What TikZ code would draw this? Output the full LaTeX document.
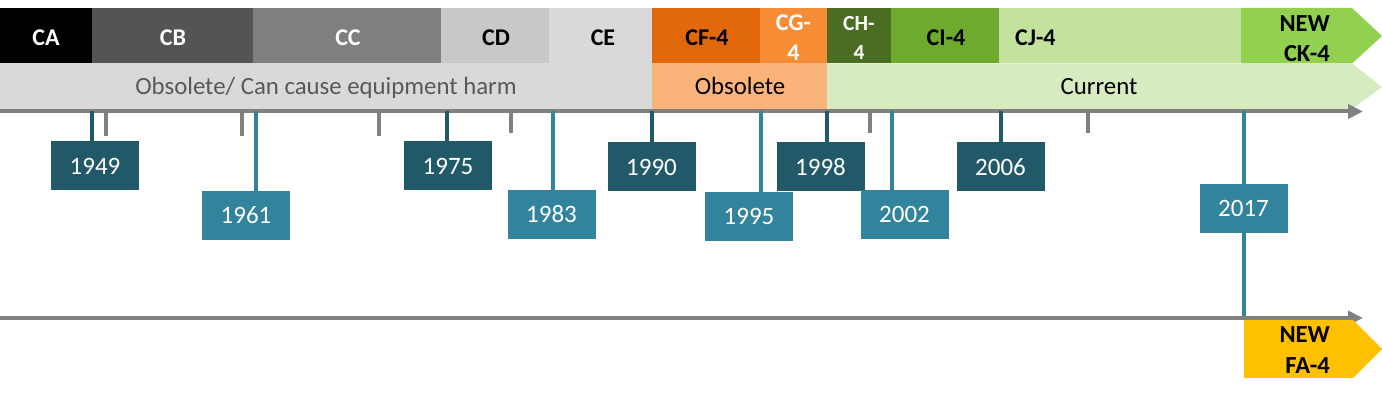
\documentclass[tikz,border=0pt]{standalone}
\usepackage{fontspec}
\setmainfont{Carlito}
\usetikzlibrary{arrows.meta}
\definecolor{cB}{HTML}{545454}
\definecolor{cC}{HTML}{7F7F7F}
\definecolor{cD}{HTML}{C8C8C8}
\definecolor{cE}{HTML}{D9D9D9}
\definecolor{cF}{HTML}{E1690C}
\definecolor{cG}{HTML}{F68D35}
\definecolor{cH}{HTML}{4A6E21}
\definecolor{cI}{HTML}{6DAA2E}
\definecolor{cJ}{HTML}{C3E29E}
\definecolor{cK}{HTML}{92D050}
\definecolor{rowGrey}{HTML}{D9D9D9}
\definecolor{rowOrange}{HTML}{FAB47A}
\definecolor{rowGreen}{HTML}{D6EBC0}
\definecolor{faYellow}{HTML}{FFC000}
\definecolor{darkTeal}{HTML}{215968}
\definecolor{lightTeal}{HTML}{31849B}
\definecolor{axisGrey}{HTML}{808080}
\definecolor{greyText}{HTML}{595959}
\begin{document}
\begin{tikzpicture}[x=1pt,y=-1pt,
  toplbl/.style={inner sep=0pt, anchor=base, font=\bfseries\fontsize{24}{30}\selectfont},
  twolbl/.style={inner sep=0pt, align=center, font=\bfseries\fontsize{24}{30}\selectfont},
  rowlbl/.style={inner sep=0pt, anchor=base, font=\fontsize{24.8}{28}\selectfont},
  yearbox/.style={minimum width=88pt, minimum height=49pt, inner sep=0pt, text=white, font=\fontsize{25}{28}\selectfont},
  axisline/.style={draw=axisGrey, line width=4pt, -{Triangle[length=15pt,width=14pt]}},
  tickline/.style={line width=4pt},
  greytick/.style={draw=axisGrey, line width=4pt}
]
\useasboundingbox (0,0) rectangle (1382,395);

% ---- top row blocks
\fill[black] (0,8) rectangle (92,63.5);
\fill[cB] (92,8) rectangle (253,63.5);
\fill[cC] (253,8) rectangle (441,63.5);
\fill[cD] (441,8) rectangle (549,63.5);
\fill[cE] (549,8) rectangle (652,63.5);
\fill[cF] (652,8) rectangle (760,63.5);
\fill[cG] (760,8) rectangle (827,63.5);
\fill[cH] (827,8) rectangle (891,63.5);
\fill[cI] (891,8) rectangle (999,63.5);
\fill[cJ] (999,8) rectangle (1241,63.5);
\fill[cK] (1241,8) -- (1352,8) -- (1382,36) -- (1352,63.5) -- (1241,63.5) -- cycle;

\node[toplbl, text=white] (lCA) at (46,46) {CA};
\node[toplbl, text=white] (lCB) at (173,46) {CB};
\node[toplbl, text=white] (lCC) at (348,46) {CC};
\node[toplbl] (lCD) at (496,46) {CD};
\node[toplbl] (lCE) at (603,46) {CE};
\node[toplbl] (lCF) at (707,46) {CF-4};
\node[twolbl, text=white] (lCG) at (793.5,37.5) {CG-\\4};
\node[twolbl, text=white, font=\bfseries\fontsize{21.5}{29}\selectfont] (lCH) at (859,37.5) {CH-\\4};
\node[toplbl] (lCI) at (946,46) {CI-4};
\node[toplbl, anchor=base west] (lCJ) at (1015,46) {CJ-4};
\node[twolbl, align=right, anchor=east, font=\bfseries\fontsize{24.5}{30.5}\selectfont] (lCK) at (1330,38.5) {NEW\\CK-4};

% ---- second row
\fill[rowGrey] (0,63.5) rectangle (652,109);
\fill[rowOrange] (652,63.5) rectangle (827,109);
\fill[rowGreen] (827,63.5) -- (1352,63.5) -- (1382,87) -- (1352,109) -- (827,109) -- cycle;
\node[rowlbl, text=greyText] (lObs1) at (326,94.3) {Obsolete/ Can cause equipment harm};
\node[rowlbl] (lObs2) at (740,94.3) {Obsolete};
\node[rowlbl] (lCur) at (1099,94.3) {Current};

% ---- upper axis
\coordinate (axA) at (0,111.5);
\coordinate (axB) at (1363,111.5);
\draw[axisline] (axA) -- (axB);

% grey ticks
\foreach \gx/\gl in {106/136, 242/136, 378.5/136, 511/133, 870/133, 1087.5/133}{
  \coordinate (gs) at (\gx,111.5);
  \coordinate (ge) at (\gx,\gl);
  \draw[greytick] (gs) -- (ge);
}

% ---- year boxes
\node[yearbox, fill=darkTeal] (y1949) at (95,166) {1949};
\node[yearbox, fill=lightTeal] (y1961) at (246,215.5) {1961};
\node[yearbox, fill=darkTeal] (y1975) at (448,166) {1975};
\node[yearbox, fill=lightTeal] (y1983) at (551.5,214.5) {1983};
\node[yearbox, fill=darkTeal] (y1990) at (651.5,167) {1990};
\node[yearbox, fill=lightTeal] (y1995) at (749,216.5) {1995};
\node[yearbox, fill=darkTeal] (y1998) at (820.5,167) {1998};
\node[yearbox, fill=lightTeal] (y2002) at (904.5,214.5) {2002};
\node[yearbox, fill=darkTeal] (y2006) at (1000.5,167) {2006};
\node[yearbox, fill=lightTeal] (y2017) at (1243.5,208.5) {2017};

% year ticks
\coordinate (t1949) at (92,111.5);
\coordinate (t1961) at (256,111.5);
\coordinate (t1975) at (446.5,111.5);
\coordinate (t1983) at (552.5,111.5);
\coordinate (t1990) at (652,111.5);
\coordinate (t1995) at (760.5,111.5);
\coordinate (t1998) at (827,111.5);
\coordinate (t2002) at (891.5,111.5);
\coordinate (t2006) at (1000.5,111.5);
\coordinate (t2017) at (1243.5,111.5);
\draw[tickline, darkTeal] (t1949) -- (t1949 |- y1949.north);
\draw[tickline, lightTeal] (t1961) -- (t1961 |- y1961.north);
\draw[tickline, darkTeal] (t1975) -- (t1975 |- y1975.north);
\draw[tickline, lightTeal] (t1983) -- (t1983 |- y1983.north);
\draw[tickline, darkTeal] (t1990) -- (t1990 |- y1990.north);
\draw[tickline, lightTeal] (t1995) -- (t1995 |- y1995.north);
\draw[tickline, darkTeal] (t1998) -- (t1998 |- y1998.north);
\draw[tickline, lightTeal] (t2002) -- (t2002 |- y2002.north);
\coordinate (e2006) at (1000.5,142);
\draw[tickline, darkTeal] (t2006) -- (e2006);
\draw[tickline, lightTeal] (t2017) -- (y2017.north);

% ---- lower axis
\coordinate (lxA) at (0,318);
\coordinate (lxB) at (1363,318);
\coordinate (l2017) at (1243.5,316);
\draw[tickline, lightTeal] (y2017.south) -- (l2017);
\draw[axisline] (lxA) -- (lxB);

% FA-4 chevron
\fill[faYellow] (1244,320) -- (1353,320) -- (1382,349) -- (1353,378) -- (1244,378) -- cycle;
\node[twolbl, align=right, anchor=east, font=\bfseries\fontsize{24.5}{31}\selectfont] (lFA) at (1330,350) {NEW\\FA-4};
\end{tikzpicture}
\end{document}
